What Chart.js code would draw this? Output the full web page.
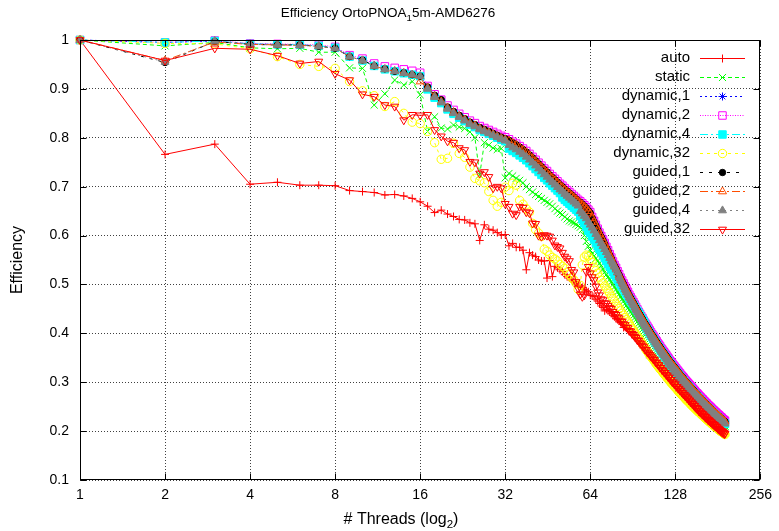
<!DOCTYPE html>
<html><head><meta charset="utf-8">
<script src="https://cdn.jsdelivr.net/npm/chart.js@4.4.1/dist/chart.umd.min.js"></script>
<style>html,body{margin:0;padding:0;background:#fff;}#wrap{width:779px;height:531px;}</style>
</head><body><div id="wrap"><canvas id="c" width="779" height="531"></canvas></div>
<script>
// ---------- DATA ----------
const threads = [1,2,3,4,5,6,7,8,9,10,11,12,13,14,15,16,17,18,19,20,21,22,23,24,25,26,27,28,29,30,31,32,33,34,35,36,37,38,39,40,41,42,43,44,45,46,47,48,49,50,51,52,53,54,55,56,57,58,59,60,61,62,63,64,65,66,67,68,69,70,71,72,73,74,75,76,77,78,79,80,81,82,83,84,85,86,87,88,89,90,91,92,93,94,95,96,97,98,99,100,101,102,103,104,105,106,107,108,109,110,111,112,113,114,115,116,117,118,119,120,121,122,123,124,125,126,127,128,129,130,131,132,133,134,135,136,137,138,139,140,141,142,143,144,145,146,147,148,149,150,151,152,153,154,155,156,157,158,159,160,161,162,163,164,165,166,167,168,169,170,171,172,173,174,175,176,177,178,179,180,181,182,183,184,185,186,187,188,189,190,191,192];
const xTickValues = [1,2,4,8,16,32,64,128,256];
const seriesNames = ['auto','static','dynamic,1','dynamic,2','dynamic,4','dynamic,32','guided,1','guided,2','guided,4','guided,32'];
const titleParts = [{t:'Efficiency OrtoPNOA'},{t:'1',sub:true},{t:'5m-AMD6276'}];
const xLabelParts = [{t:'# Threads (log'},{t:'2',sub:true},{t:')'}];
const yLabel = 'Efficiency';

// threads 1..100
const autoA = [1.000,0.766,0.787,0.705,0.709,0.703,0.703,0.702,0.692,0.690,0.688,0.683,0.684,0.681,0.676,0.669,0.660,0.647,0.652,0.644,0.639,0.633,0.632,0.626,0.624,0.590,0.622,0.613,0.611,0.606,0.601,0.602,0.579,0.584,0.576,0.576,0.570,0.530,0.565,0.560,0.557,0.550,0.548,0.548,0.513,0.549,0.516,0.537,0.534,0.530,0.526,0.520,0.516,0.513,0.509,0.506,0.503,0.499,0.497,0.494,0.490,0.487,0.485,0.478,0.477,0.475,0.470,0.466,0.461,0.456,0.453,0.446,0.449,0.446,0.444,0.441,0.437,0.434,0.430,0.428,0.425,0.422,0.419,0.412,0.413,0.411,0.408,0.406,0.403,0.400,0.398,0.395,0.391,0.388,0.384,0.380,0.377,0.373,0.369,0.366];
const staticA = [1.000,0.988,0.995,0.984,0.982,0.983,0.975,0.975,0.943,0.942,0.867,0.890,0.918,0.908,0.915,0.888,0.813,0.843,0.820,0.818,0.826,0.822,0.819,0.812,0.800,0.724,0.790,0.785,0.779,0.776,0.778,0.718,0.727,0.722,0.717,0.713,0.708,0.700,0.694,0.689,0.684,0.680,0.676,0.672,0.668,0.665,0.660,0.655,0.650,0.646,0.643,0.638,0.634,0.630,0.628,0.626,0.623,0.620,0.617,0.612,0.600,0.588,0.578,0.570,0.563,0.558,0.553,0.548,0.543,0.538,0.531,0.525,0.520,0.515,0.510,0.505,0.500,0.495,0.490,0.485,0.480,0.475,0.470,0.466,0.461,0.457,0.452,0.448,0.444,0.440,0.436,0.432,0.428,0.424,0.420,0.416,0.412,0.408,0.404,0.400];
const dynamic1A = [1.000,0.995,0.998,0.992,0.991,0.990,0.988,0.984,0.967,0.959,0.948,0.941,0.937,0.933,0.930,0.927,0.903,0.886,0.875,0.862,0.853,0.845,0.838,0.831,0.826,0.820,0.816,0.812,0.808,0.804,0.800,0.797,0.794,0.789,0.785,0.780,0.775,0.770,0.764,0.758,0.752,0.746,0.740,0.734,0.729,0.723,0.718,0.713,0.708,0.703,0.699,0.694,0.690,0.686,0.682,0.678,0.674,0.670,0.667,0.663,0.659,0.655,0.650,0.645,0.637,0.629,0.621,0.613,0.605,0.598,0.591,0.584,0.576,0.569,0.561,0.554,0.546,0.539,0.533,0.526,0.520,0.513,0.507,0.501,0.495,0.489,0.484,0.478,0.473,0.468,0.463,0.458,0.453,0.448,0.443,0.439,0.434,0.430,0.425,0.421];
const dynamic2A = [1.000,0.995,0.999,0.993,0.992,0.991,0.990,0.986,0.969,0.962,0.952,0.946,0.943,0.940,0.937,0.933,0.906,0.889,0.878,0.866,0.857,0.849,0.842,0.835,0.830,0.824,0.820,0.816,0.812,0.808,0.804,0.801,0.797,0.792,0.788,0.783,0.778,0.773,0.767,0.761,0.755,0.749,0.743,0.737,0.732,0.726,0.721,0.716,0.711,0.706,0.702,0.697,0.693,0.689,0.685,0.681,0.677,0.673,0.670,0.666,0.662,0.658,0.653,0.648,0.638,0.630,0.622,0.614,0.606,0.599,0.592,0.585,0.577,0.570,0.562,0.555,0.547,0.540,0.534,0.527,0.521,0.514,0.508,0.502,0.496,0.490,0.485,0.479,0.474,0.469,0.464,0.459,0.454,0.449,0.444,0.440,0.435,0.431,0.426,0.422];
const dynamic4A = [1.000,0.995,0.998,0.992,0.991,0.990,0.988,0.984,0.966,0.958,0.947,0.940,0.936,0.932,0.929,0.926,0.899,0.882,0.871,0.858,0.849,0.841,0.834,0.827,0.822,0.816,0.812,0.808,0.804,0.800,0.796,0.793,0.778,0.773,0.769,0.764,0.759,0.754,0.748,0.742,0.736,0.730,0.724,0.718,0.713,0.707,0.702,0.697,0.692,0.687,0.678,0.673,0.669,0.665,0.661,0.657,0.653,0.649,0.640,0.633,0.625,0.618,0.610,0.605,0.598,0.592,0.585,0.578,0.572,0.566,0.560,0.554,0.548,0.542,0.537,0.531,0.526,0.520,0.515,0.510,0.505,0.500,0.495,0.490,0.485,0.480,0.476,0.471,0.467,0.462,0.458,0.454,0.449,0.445,0.441,0.437,0.432,0.428,0.424,0.419];
const dynamic32A = [1.000,0.993,0.992,0.982,0.966,0.950,0.946,0.942,0.915,0.896,0.886,0.864,0.874,0.850,0.832,0.829,0.813,0.790,0.756,0.758,0.789,0.768,0.760,0.740,0.717,0.712,0.708,0.690,0.672,0.660,0.668,0.699,0.692,0.707,0.703,0.672,0.664,0.655,0.648,0.625,0.612,0.605,0.598,0.572,0.568,0.560,0.555,0.552,0.548,0.541,0.537,0.533,0.525,0.520,0.514,0.509,0.502,0.490,0.498,0.540,0.556,0.560,0.558,0.552,0.545,0.535,0.528,0.523,0.515,0.508,0.503,0.497,0.492,0.487,0.482,0.476,0.471,0.466,0.460,0.455,0.451,0.446,0.441,0.437,0.432,0.428,0.423,0.419,0.414,0.410,0.406,0.402,0.398,0.394,0.390,0.386,0.382,0.378,0.375,0.371];
const guided1A = [1.000,0.954,0.997,0.991,0.990,0.990,0.987,0.983,0.966,0.959,0.947,0.941,0.936,0.933,0.929,0.926,0.904,0.887,0.878,0.863,0.854,0.846,0.839,0.832,0.827,0.821,0.817,0.813,0.809,0.805,0.801,0.798,0.795,0.790,0.786,0.781,0.776,0.771,0.765,0.759,0.753,0.747,0.741,0.735,0.730,0.724,0.719,0.714,0.709,0.704,0.700,0.695,0.691,0.687,0.683,0.679,0.675,0.671,0.668,0.664,0.660,0.656,0.651,0.646,0.636,0.628,0.620,0.612,0.604,0.597,0.590,0.583,0.575,0.568,0.560,0.553,0.545,0.538,0.532,0.525,0.519,0.512,0.506,0.500,0.494,0.488,0.483,0.477,0.472,0.467,0.462,0.457,0.452,0.447,0.442,0.438,0.433,0.429,0.424,0.420];
const guided2A = [1.000,0.958,0.996,0.991,0.990,0.989,0.987,0.983,0.966,0.958,0.947,0.940,0.936,0.932,0.929,0.915,0.902,0.885,0.874,0.861,0.852,0.844,0.837,0.830,0.825,0.819,0.815,0.811,0.807,0.803,0.799,0.796,0.794,0.789,0.785,0.780,0.775,0.770,0.764,0.758,0.752,0.746,0.740,0.734,0.729,0.723,0.718,0.713,0.708,0.703,0.699,0.694,0.690,0.686,0.682,0.678,0.674,0.670,0.667,0.663,0.659,0.655,0.650,0.645,0.636,0.628,0.620,0.612,0.604,0.597,0.590,0.583,0.575,0.568,0.560,0.553,0.545,0.538,0.532,0.525,0.519,0.512,0.506,0.500,0.494,0.488,0.483,0.477,0.472,0.467,0.462,0.457,0.452,0.447,0.442,0.438,0.433,0.429,0.424,0.420];
const guided4A = [1.000,0.955,0.998,0.991,0.990,0.989,0.987,0.983,0.966,0.958,0.947,0.940,0.936,0.932,0.929,0.926,0.900,0.883,0.872,0.859,0.850,0.842,0.835,0.828,0.823,0.817,0.813,0.809,0.805,0.801,0.797,0.794,0.785,0.780,0.776,0.771,0.766,0.761,0.755,0.749,0.743,0.737,0.731,0.725,0.720,0.714,0.709,0.704,0.699,0.694,0.690,0.685,0.681,0.677,0.673,0.669,0.665,0.661,0.650,0.645,0.640,0.635,0.628,0.622,0.616,0.610,0.603,0.597,0.590,0.584,0.578,0.572,0.566,0.560,0.554,0.548,0.542,0.536,0.530,0.524,0.515,0.508,0.502,0.496,0.490,0.484,0.479,0.473,0.468,0.463,0.458,0.453,0.448,0.443,0.438,0.434,0.429,0.425,0.420,0.416];
const guided32A = [1.000,0.958,0.983,0.981,0.968,0.952,0.956,0.931,0.918,0.889,0.884,0.867,0.864,0.836,0.847,0.846,0.847,0.816,0.803,0.793,0.790,0.779,0.775,0.751,0.750,0.727,0.730,0.720,0.697,0.700,0.697,0.665,0.659,0.645,0.642,0.659,0.657,0.648,0.646,0.625,0.624,0.600,0.598,0.601,0.600,0.598,0.590,0.580,0.577,0.574,0.565,0.557,0.553,0.548,0.530,0.525,0.505,0.492,0.480,0.475,0.478,0.526,0.536,0.523,0.515,0.509,0.496,0.484,0.478,0.470,0.468,0.462,0.461,0.456,0.452,0.450,0.444,0.440,0.438,0.433,0.431,0.425,0.424,0.419,0.417,0.412,0.411,0.405,0.404,0.399,0.397,0.393,0.391,0.386,0.385,0.380,0.378,0.374,0.372,0.367];

// threads 101..192
const autoB = [0.363,0.360,0.357,0.350,0.352,0.349,0.347,0.344,0.341,0.339,0.336,0.334,0.332,0.329,0.327,0.325,0.323,0.316,0.318,0.316,0.314,0.312,0.310,0.307,0.305,0.303,0.301,0.299,0.297,0.295,0.293,0.291,0.283,0.287,0.285,0.283,0.281,0.279,0.277,0.275,0.273,0.271,0.269,0.267,0.265,0.263,0.256,0.259,0.257,0.256,0.254,0.252,0.251,0.249,0.248,0.246,0.244,0.243,0.241,0.240,0.238,0.237,0.235,0.234,0.232,0.231,0.229,0.228,0.227,0.225,0.224,0.223,0.221,0.220,0.219,0.217,0.216,0.215,0.214,0.212,0.211,0.210,0.209,0.208,0.206,0.205,0.204,0.203,0.202,0.201,0.200,0.199];
const staticB = [0.399,0.395,0.391,0.388,0.384,0.380,0.377,0.373,0.370,0.366,0.363,0.360,0.357,0.354,0.350,0.347,0.344,0.342,0.339,0.336,0.333,0.330,0.328,0.325,0.322,0.320,0.317,0.315,0.312,0.310,0.308,0.305,0.303,0.301,0.299,0.296,0.294,0.292,0.290,0.288,0.286,0.284,0.282,0.280,0.278,0.276,0.274,0.272,0.270,0.269,0.267,0.265,0.263,0.262,0.260,0.258,0.257,0.255,0.253,0.252,0.250,0.249,0.247,0.246,0.244,0.243,0.241,0.240,0.238,0.237,0.236,0.234,0.233,0.232,0.230,0.229,0.228,0.226,0.225,0.224,0.223,0.221,0.220,0.219,0.218,0.217,0.216,0.214,0.213,0.212,0.211,0.210];
const topMidB = [0.416,0.412,0.408,0.404,0.400,0.396,0.393,0.389,0.385,0.382,0.378,0.375,0.372,0.368,0.365,0.362,0.359,0.356,0.353,0.350,0.347,0.344,0.341,0.339,0.336,0.333,0.331,0.328,0.326,0.323,0.321,0.318,0.316,0.313,0.311,0.309,0.307,0.304,0.302,0.300,0.298,0.296,0.294,0.292,0.290,0.288,0.286,0.284,0.282,0.280,0.278,0.276,0.275,0.273,0.271,0.269,0.268,0.266,0.264,0.263,0.261,0.259,0.258,0.256,0.255,0.253,0.251,0.250,0.249,0.247,0.246,0.244,0.243,0.241,0.240,0.239,0.237,0.236,0.235,0.233,0.232,0.231,0.230,0.228,0.227,0.226,0.225,0.223,0.222,0.221,0.220,0.219];
const topHighB = [0.418,0.414,0.410,0.406,0.402,0.398,0.395,0.391,0.387,0.384,0.380,0.377,0.374,0.370,0.367,0.364,0.361,0.358,0.355,0.352,0.349,0.346,0.343,0.341,0.338,0.335,0.333,0.330,0.328,0.325,0.323,0.320,0.318,0.315,0.313,0.311,0.309,0.306,0.304,0.302,0.300,0.298,0.296,0.294,0.292,0.290,0.288,0.286,0.284,0.282,0.280,0.278,0.277,0.275,0.273,0.271,0.270,0.268,0.266,0.265,0.263,0.261,0.260,0.258,0.257,0.255,0.253,0.252,0.251,0.249,0.248,0.246,0.245,0.243,0.242,0.241,0.239,0.238,0.237,0.235,0.234,0.233,0.232,0.230,0.229,0.228,0.227,0.225,0.224,0.223,0.222,0.221];
const topLowB = [0.412,0.408,0.404,0.400,0.396,0.392,0.389,0.385,0.381,0.378,0.374,0.371,0.368,0.364,0.361,0.358,0.355,0.352,0.349,0.346,0.343,0.340,0.337,0.335,0.332,0.329,0.327,0.324,0.322,0.319,0.317,0.314,0.312,0.309,0.307,0.305,0.303,0.300,0.298,0.296,0.294,0.292,0.290,0.288,0.286,0.284,0.282,0.280,0.278,0.276,0.274,0.272,0.271,0.269,0.267,0.265,0.264,0.262,0.260,0.259,0.257,0.255,0.254,0.252,0.251,0.249,0.247,0.246,0.245,0.243,0.242,0.240,0.239,0.237,0.236,0.235,0.233,0.232,0.231,0.229,0.228,0.227,0.226,0.224,0.223,0.222,0.221,0.219,0.218,0.217,0.216,0.215];
const dynamic32B = [0.366,0.363,0.359,0.356,0.352,0.349,0.346,0.343,0.339,0.336,0.333,0.330,0.327,0.325,0.322,0.319,0.316,0.314,0.311,0.308,0.306,0.303,0.301,0.298,0.296,0.294,0.291,0.289,0.287,0.285,0.282,0.280,0.278,0.276,0.274,0.272,0.270,0.268,0.266,0.264,0.262,0.261,0.259,0.257,0.255,0.253,0.252,0.250,0.248,0.247,0.245,0.243,0.242,0.240,0.239,0.237,0.236,0.234,0.233,0.231,0.230,0.228,0.227,0.226,0.224,0.223,0.222,0.220,0.219,0.218,0.216,0.215,0.214,0.213,0.211,0.210,0.209,0.208,0.207,0.206,0.204,0.203,0.202,0.201,0.200,0.199,0.198,0.197,0.196,0.195,0.194,0.193];
const guided32B = [0.366,0.361,0.359,0.356,0.353,0.351,0.347,0.346,0.341,0.340,0.336,0.335,0.330,0.330,0.325,0.324,0.320,0.319,0.315,0.314,0.310,0.310,0.305,0.305,0.300,0.300,0.296,0.296,0.291,0.291,0.287,0.287,0.283,0.283,0.279,0.278,0.275,0.274,0.271,0.271,0.267,0.267,0.263,0.263,0.259,0.259,0.256,0.255,0.252,0.252,0.248,0.248,0.245,0.245,0.241,0.241,0.238,0.238,0.235,0.235,0.232,0.232,0.229,0.229,0.226,0.226,0.223,0.223,0.221,0.220,0.218,0.218,0.215,0.215,0.213,0.213,0.210,0.210,0.208,0.208,0.205,0.205,0.203,0.203,0.200,0.201,0.198,0.199,0.196,0.197,0.194,0.195];

const seriesValues = [
  autoA.concat(autoB),
  staticA.concat(staticB),
  dynamic1A.concat(topMidB),
  dynamic2A.concat(topHighB),
  dynamic4A.concat(topLowB),
  dynamic32A.concat(dynamic32B),
  guided1A.concat(topMidB),
  guided2A.concat(topMidB),
  guided4A.concat(topLowB),
  guided32A.concat(guided32B)
];

// ---------- STYLES ----------
const FONT = '"Liberation Sans", Arial, Helvetica, sans-serif';
const looks = [
  {color:'#ff0000', dash:[],          point:'cross',    fill:false, r:4,   rot:0},
  {color:'#00ff00', dash:[4,3],       point:'crossRot', fill:false, r:5,   rot:0},
  {color:'#0000ff', dash:[2,3],       point:'star',     fill:false, r:4,   rot:0},
  {color:'#ff00ff', dash:[1,1.5],     point:'rect',     fill:false, r:5.3, rot:0},
  {color:'#00ffff', dash:[8,3,2,3],   point:'rect',     fill:true,  r:5.3, rot:0},
  {color:'#ffff00', dash:[3,4],       point:'circle',   fill:false, r:4.2, rot:0},
  {color:'#000000', dash:[3,6],       point:'circle',   fill:true,  r:3.2, rot:0},
  {color:'#ff4d00', dash:[8,3,2,3],   point:'triangle', fill:false, r:4.6, rot:0},
  {color:'#808080', dash:[2,4],       point:'triangle', fill:true,  r:4.6, rot:0},
  {color:'#ff0000', dash:[],          point:'triangle', fill:false, r:4.6, rot:180}
];

const datasets = seriesNames.map((name, i) => {
  const lk = looks[i];
  return {
    label: name,
    data: threads.map((t, k) => ({x: t, y: seriesValues[i][k]})),
    borderColor: lk.color,
    borderWidth: 1,
    borderDash: lk.dash,
    pointStyle: lk.point,
    pointRadius: lk.r,
    pointRotation: lk.rot,
    pointBorderWidth: 1,
    pointBorderColor: lk.color,
    pointBackgroundColor: lk.fill ? lk.color : 'rgba(0,0,0,0)',
    tension: 0,
    fill: false,
    clip: false,
    order: seriesNames.length - i
  };
});

// ---------- HELPERS ----------
function drawParts(ctx, parts, cx, cy, size) {
  const subSize = size * 0.72;
  let w = 0;
  parts.forEach(p => {
    ctx.font = (p.sub ? subSize : size) + 'px ' + FONT;
    p.w = ctx.measureText(p.t).width;
    w += p.w;
  });
  let x = cx - w / 2;
  ctx.textAlign = 'left';
  ctx.textBaseline = 'alphabetic';
  const base = cy + size * 0.35;
  parts.forEach(p => {
    ctx.font = (p.sub ? subSize : size) + 'px ' + FONT;
    ctx.fillText(p.t, x, p.sub ? base + size * 0.28 : base);
    x += p.w;
  });
}

// ---------- PLUGINS ----------
const framePlugin = {
  id: 'gpFrame',
  afterDatasetsDraw(chart) {
    const {ctx, chartArea: a, scales} = chart;
    ctx.save();
    ctx.strokeStyle = '#000';
    ctx.lineWidth = 1;
    ctx.setLineDash([]);
    const L = Math.round(a.left) + 0.5, R = Math.round(a.right) - 0.5;
    const T = Math.round(a.top) + 0.5, B = Math.round(a.bottom) - 0.5;
    ctx.strokeRect(L, T, R - L, B - T);
    ctx.beginPath();
    xTickValues.forEach(v => {
      const x = Math.round(scales.x.getPixelForValue(v)) + 0.5;
      ctx.moveTo(x, B); ctx.lineTo(x, B - 6);
      ctx.moveTo(x, T); ctx.lineTo(x, T + 6);
    });
    scales.y.ticks.forEach(t => {
      const y = Math.round(scales.y.getPixelForValue(t.value)) + 0.5;
      ctx.moveTo(L, y); ctx.lineTo(L + 6, y);
      ctx.moveTo(R, y); ctx.lineTo(R - 6, y);
    });
    ctx.stroke();
    ctx.restore();
  }
};

const textPlugin = {
  id: 'gpText',
  afterDraw(chart) {
    const ctx = chart.ctx;
    ctx.save();
    ctx.fillStyle = '#000';
    drawParts(ctx, titleParts, 388, 12, 13.5);
    drawParts(ctx, xLabelParts, 401, 518, 16);
    ctx.restore();
  }
};

const keyPlugin = {
  id: 'gpKey',
  afterDraw(chart) {
    const ctx = chart.ctx;
    ctx.save();
    ctx.font = '15px ' + FONT;
    ctx.textAlign = 'right';
    ctx.textBaseline = 'middle';
    seriesNames.forEach((name, i) => {
      const lk = looks[i];
      const y = Math.round(57.5 + i * 19);
      ctx.fillStyle = '#000';
      ctx.fillText(name, 690, y);
      ctx.strokeStyle = lk.color;
      ctx.lineWidth = 1;
      ctx.setLineDash(lk.dash);
      ctx.beginPath();
      ctx.moveTo(700, y + 0.5);
      ctx.lineTo(745, y + 0.5);
      ctx.stroke();
      ctx.setLineDash([]);
      ctx.fillStyle = lk.fill ? lk.color : 'rgba(0,0,0,0)';
      ctx.strokeStyle = lk.color;
      Chart.helpers.drawPoint(ctx, {pointStyle: lk.point, rotation: lk.rot, radius: lk.r, borderWidth: 1}, 722.5, y + 0.5);
    });
    ctx.restore();
  }
};

// ---------- CHART ----------
new Chart(document.getElementById('c'), {
  type: 'line',
  data: {datasets},
  options: {
    responsive: false,
    animation: false,
    events: [],
    layout: {padding: {left: 0, right: 16, top: 40, bottom: 0}},
    plugins: {
      legend: {display: false},
      tooltip: {enabled: false},
      title: {display: false}
    },
    scales: {
      x: {
        type: 'logarithmic',
        min: 1, max: 256,
        afterBuildTicks: s => { s.ticks = xTickValues.map(v => ({value: v})); },
        afterFit: s => { s.height = 51; },
        ticks: {
          callback: v => String(v),
          color: '#000',
          font: {family: FONT, size: 14},
          padding: 7,
          maxRotation: 0,
          autoSkip: false
        },
        grid: {color: 'rgba(0,0,0,0.75)', lineWidth: 1, drawTicks: false},
        border: {display: false, dash: [1, 2]},
        title: {display: false}
      },
      y: {
        type: 'linear',
        min: 0.1, max: 1,
        afterFit: s => { s.width = 80; },
        ticks: {
          stepSize: 0.1,
          callback: v => String(Math.round(v * 10) / 10),
          color: '#000',
          font: {family: FONT, size: 14},
          padding: 11
        },
        grid: {color: 'rgba(0,0,0,0.75)', lineWidth: 1, drawTicks: false},
        border: {display: false, dash: [1, 2]},
        title: {
          display: true,
          text: yLabel,
          color: '#000',
          font: {family: FONT, size: 16, lineHeight: 1.2},
          padding: {top: 8.4, bottom: 0}
        }
      }
    }
  },
  plugins: [framePlugin, textPlugin, keyPlugin]
});
</script>
</body></html>
